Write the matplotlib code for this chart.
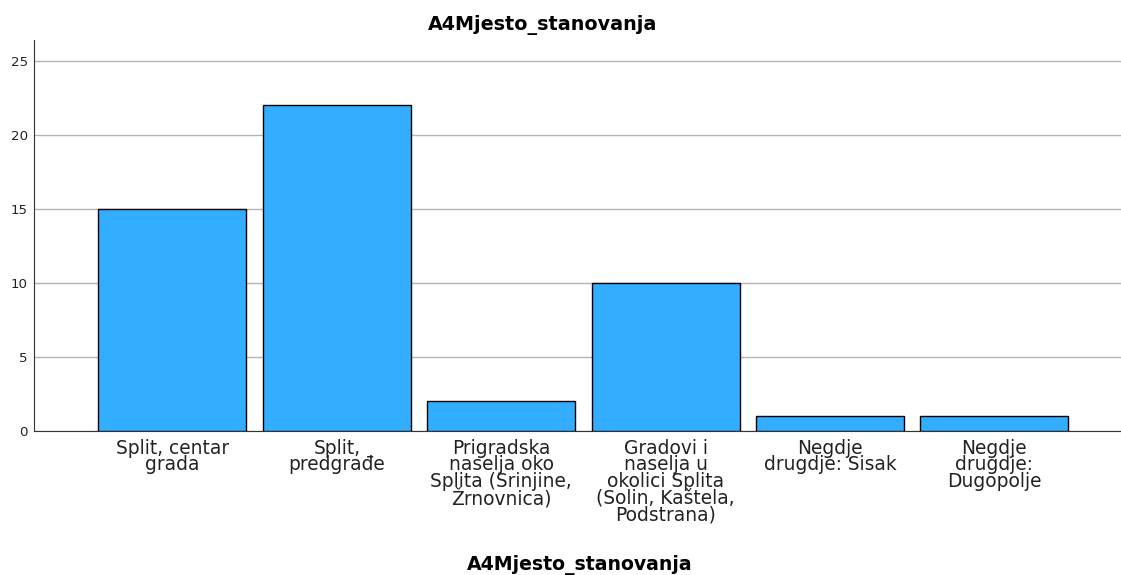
import matplotlib.pyplot as plt
import matplotlib as mpl

mpl.rcParams['font.family'] = ['DejaVu Sans']

categories = [
    "Split, centar\ngrada",
    "Split,\npredgrađe",
    "Prigradska\nnaselja oko\nSplita (Srinjine,\nŽrnovnica)",
    "Gradovi i\nnaselja u\nokolici Splita\n(Solin, Kaštela,\nPodstrana)",
    "Negdje\ndrugdje: Sisak",
    "Negdje\ndrugdje:\nDugopolje",
]
counts = [15, 22, 2, 10, 1, 1]
yticks = [0, 5, 10, 15, 20, 25]

fig = plt.figure(figsize=(11.21, 5.75), dpi=100)
ax = fig.add_axes([34 / 1121, 1 - 431 / 575, 1 - 34 / 1121, (431 - 40) / 575])

x = list(range(len(categories)))
ax.bar(x, counts, width=0.9, color='#33adff', edgecolor='black', linewidth=1, zorder=3)

ax.set_xlim(-0.842, 5.77)
ax.set_ylim(0, 26.4)
ax.set_yticks(yticks)
ax.set_yticklabels([str(t) for t in yticks], fontsize=9.6, color='#222222')
ax.set_xticks(x)
ax.set_xticklabels(categories, fontsize=13.4, linespacing=0.84, color='#222222')
ax.tick_params(axis='both', length=0)
ax.tick_params(axis='y', pad=4.5)
ax.tick_params(axis='x', pad=5.5)

ax.yaxis.grid(True, color='#b4b4b4', linewidth=1, zorder=0)
for s in ['top', 'right']:
    ax.spines[s].set_visible(False)
ax.spines['left'].set_color('#333333')
ax.spines['bottom'].set_color('#333333')

fig.text(543 / 1121, 1 - 25 / 575, "A4Mjesto_stanovanja", ha='center', va='center',
         fontsize=13.8, fontweight='bold')
fig.text(580 / 1121, 1 - 565 / 575, "A4Mjesto_stanovanja", ha='center', va='center',
         fontsize=13.6, fontweight='bold')

fig.savefig('out.png', dpi=100)
